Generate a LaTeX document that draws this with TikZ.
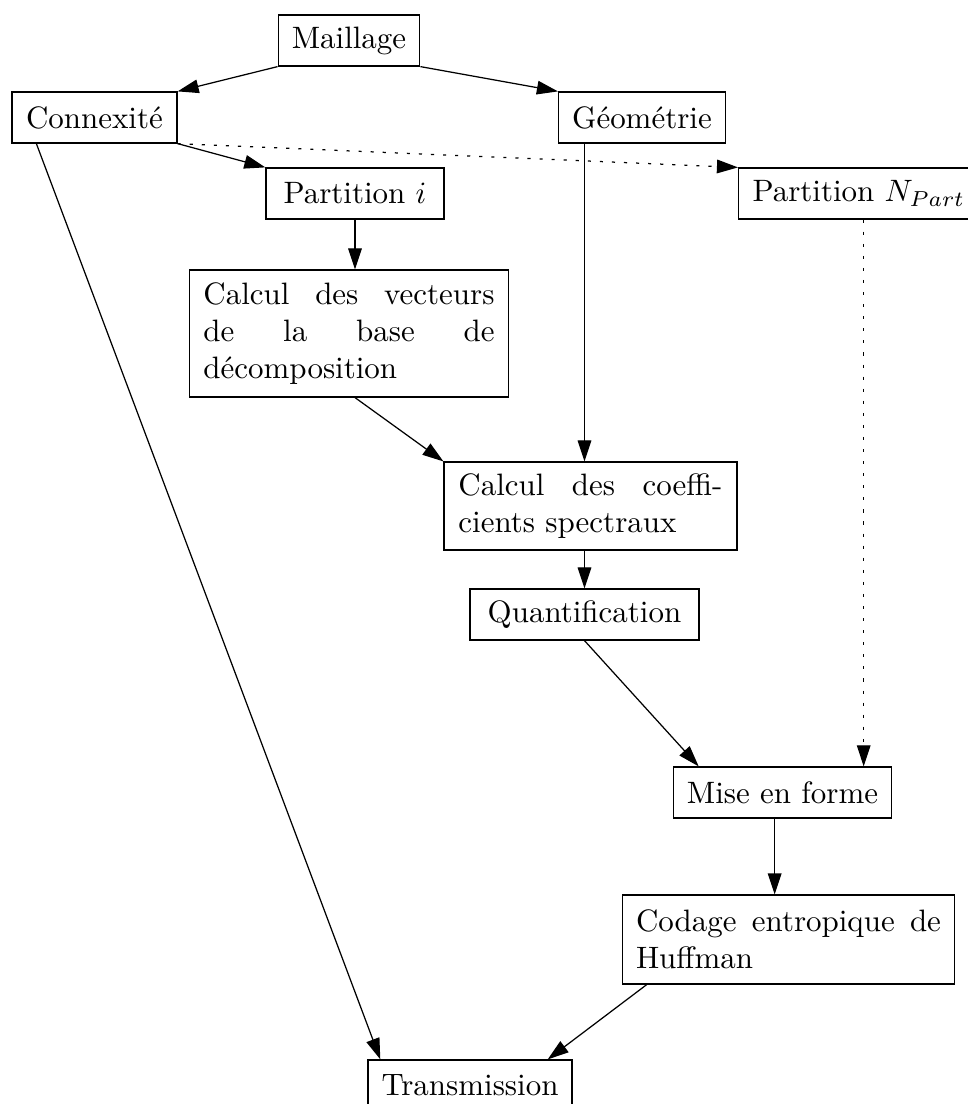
\documentclass[tikz,border=0pt]{standalone}
\usetikzlibrary{arrows.meta,calc}
\tikzset{
  box/.style={draw, rectangle, line width=0.4pt, inner xsep=4.4pt, inner ysep=0pt, minimum height=16.47pt},
  para/.style={box, align=justify},
  conn/.style={line width=0.4pt, -{Triangle[length=6.8pt,width=4.4pt]}},
  dots/.style={conn, dash pattern=on 1pt off 2.9pt}
}
\begin{document}
\begin{tikzpicture}[x=0.323pt, y=-0.323pt]
\useasboundingbox (0,0) rectangle (968,1104);
\clip (0,0) rectangle (968,1104);

\node[box, minimum width=45.2pt] (mai) at (349,40.5) {Maillage};
\node[box, minimum width=53.3pt] (con) at (94.5,117.5) {Connexité};
\node[box, minimum width=53.6pt] (geo) at (642,117.5) {Géométrie};
\node[box, minimum width=57.5pt] (parti) at (355,193.5) {Partition $i$};
\node[box, anchor=west, inner xsep=4.5pt] (partN) at (738,193.5) {Partition $N_{Part}$};
\node[para, text width=94.0pt, minimum width=102.7pt, minimum height=41.0pt] (vect) at (349,333.5)
  {Calcul des vecteurs\linebreak de la base de\linebreak \mbox{décomposition}};
\node[para, text width=85.3pt, minimum width=94.6pt, minimum height=28.4pt] (coeff) at (590.5,506)
  {Calcul des coeffi-\linebreak cients spectraux};
\node[box, minimum width=74.0pt] (quant) at (584.5,614.5) {Quantification};
\node[box, minimum width=70.1pt] (mise) at (782.5,792.5) {Mise en forme};
\node[para, text width=98.5pt, minimum width=106.9pt, minimum height=28.7pt] (cod) at (788.5,939.5)
  {Codage entropique de\linebreak Huffman};
\node[box, minimum width=65.9pt] (trans) at (470,1085.5) {Transmission};

\coordinate (pn) at ($(mise.north west)+(191,0)$);
\coordinate (mc) at ($(mise.south west)+(102,0)$);

\draw[conn] (mai.south west) -- (con.north east);
\draw[conn] (mai.south east) -- (geo.north west);
\draw[conn] (con.south east) -- (parti.north west);
\draw[dots] (con.south east) -- (partN.north west);
\draw[conn] ($(con.south west)+(25,0)$) -- ($(trans.north west)+(13,0)$);
\draw[conn] (parti.south) -- (vect.north -| parti.south);
\draw[conn] (vect.south -| parti.south) -- (coeff.north west);
\draw[conn] (geo.south -| quant.north) -- (coeff.north -| quant.north);
\draw[conn] (coeff.south -| quant.north) -- (quant.north);
\draw[conn] (quant.south) -- ($(mise.north west)+(26,0)$);
\draw[dots] (partN.south -| pn) -- (pn);
\draw[conn] (mc) -- (cod.north -| mc);
\draw[conn] ($(cod.south west)+(25,0)$) -- ($(trans.north east)+(-25,0)$);
\end{tikzpicture}
\end{document}
